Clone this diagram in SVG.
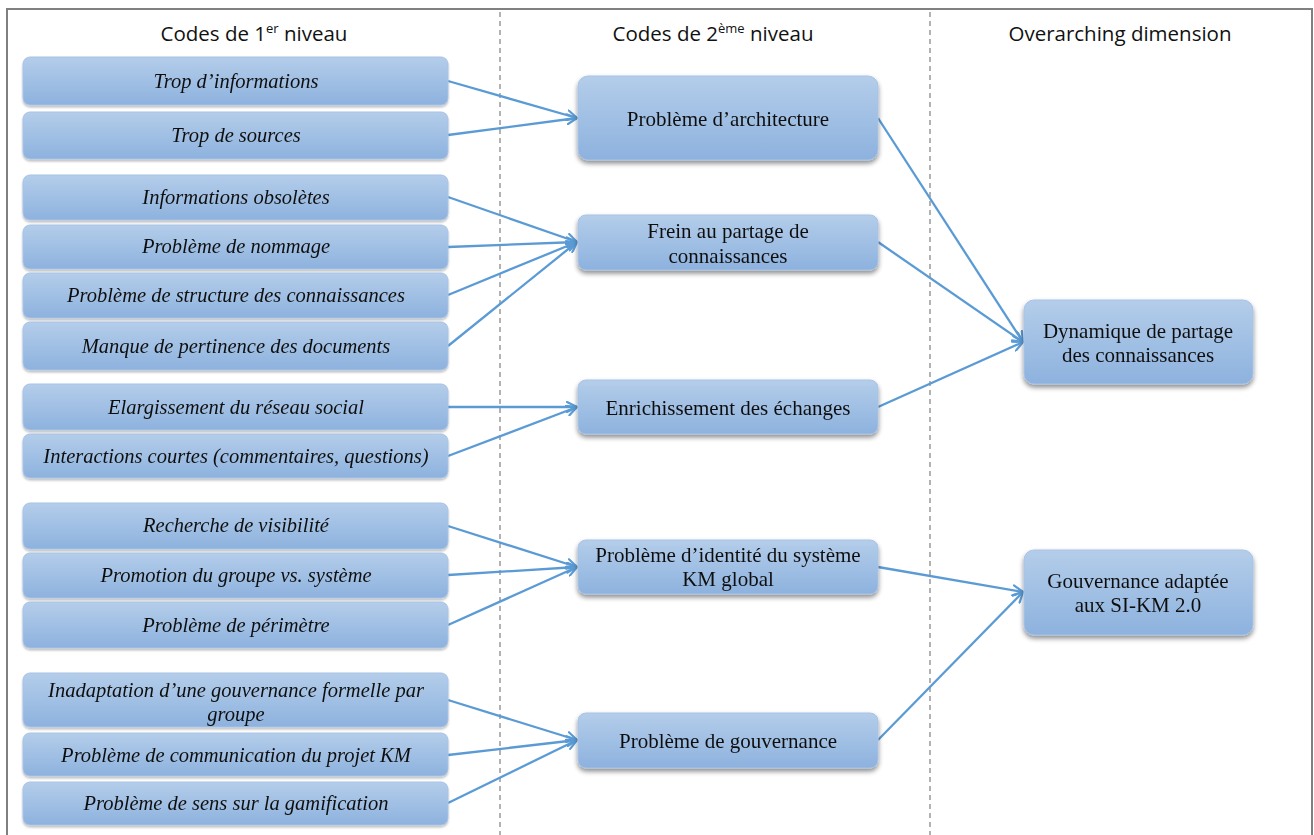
<svg xmlns="http://www.w3.org/2000/svg" width="1314" height="835" viewBox="0 0 1314 835">
<defs>
<linearGradient id="g" x1="0" y1="0" x2="0" y2="1">
<stop offset="0" stop-color="#b4cdea"/>
<stop offset="1" stop-color="#8db2de"/>
</linearGradient>
<filter id="sh" x="-10%" y="-20%" width="120%" height="150%">
<feGaussianBlur in="SourceAlpha" stdDeviation="2.5"/>
<feOffset dx="0" dy="3" result="b"/>
<feComponentTransfer><feFuncA type="linear" slope="0.45"/></feComponentTransfer>
<feMerge><feMergeNode/><feMergeNode in="SourceGraphic"/></feMerge>
</filter>
<filter id="sh2" x="-10%" y="-20%" width="120%" height="150%">
<feGaussianBlur in="SourceAlpha" stdDeviation="1.2"/>
<feOffset dx="0" dy="1.5" result="b"/>
<feComponentTransfer><feFuncA type="linear" slope="0.25"/></feComponentTransfer>
<feMerge><feMergeNode/><feMergeNode in="SourceGraphic"/></feMerge>
</filter>
<marker id="arr" viewBox="0 0 12 12" refX="11" refY="6" markerWidth="12" markerHeight="12" markerUnits="userSpaceOnUse" orient="auto">
<path d="M1,1 L11,6 L1,11" fill="none" stroke="#5b9bd5" stroke-width="2.2" stroke-linecap="round" stroke-linejoin="round"/>
</marker>
</defs>
<style>
.box{fill:url(#g);stroke:#a8c3e6;stroke-width:1}
.l{filter:url(#sh2)}
.m{filter:url(#sh)}
.t1{font-family:"Liberation Serif",serif;font-style:italic;font-size:20.5px;fill:#111;text-anchor:middle}
.t2{font-family:"Liberation Serif",serif;font-size:21px;fill:#111;text-anchor:middle}
.h{font-family:"Open Sans","Liberation Sans",sans-serif;font-size:20.5px;fill:#111;text-anchor:middle}
.c{stroke:#5b9bd5;stroke-width:2.3;fill:none;marker-end:url(#arr)}
.d{stroke:#999;stroke-width:1.5;stroke-dasharray:5,4;fill:none}
</style>
<rect x="0" y="0" width="1314" height="835" fill="#fff"/>
<path d="M7,840 V9 H1312 V840" fill="none" stroke="#808080" stroke-width="2"/>
<line class="d" x1="500" y1="12" x2="500" y2="835"/>
<line class="d" x1="930" y1="12" x2="930" y2="835"/>
<g id="headers">
<text class="h" x="254" y="41">Codes de 1<tspan font-size="13" dy="-8">er</tspan><tspan dy="8"> niveau</tspan></text>
<text class="h" x="713" y="41">Codes de 2<tspan font-size="13" dy="-8">ème</tspan><tspan dy="8"> niveau</tspan></text>
<text class="h" x="1120" y="41">Overarching dimension</text>
</g>
<g id="connectors">
<line class="c" x1="448" y1="81" x2="577" y2="118"/>
<line class="c" x1="448" y1="135" x2="577" y2="118"/>
<line class="c" x1="448" y1="197" x2="577" y2="242"/>
<line class="c" x1="448" y1="247" x2="577" y2="242"/>
<line class="c" x1="448" y1="295" x2="577" y2="242"/>
<line class="c" x1="448" y1="346" x2="577" y2="242"/>
<line class="c" x1="448" y1="407" x2="577" y2="407"/>
<line class="c" x1="448" y1="456" x2="577" y2="407"/>
<line class="c" x1="448" y1="526" x2="577" y2="567"/>
<line class="c" x1="448" y1="575" x2="577" y2="567"/>
<line class="c" x1="448" y1="625" x2="577" y2="567"/>
<line class="c" x1="448" y1="700" x2="577" y2="740"/>
<line class="c" x1="448" y1="755" x2="577" y2="740"/>
<line class="c" x1="448" y1="803" x2="577" y2="740"/>
<line class="c" x1="878" y1="118" x2="1023" y2="342"/>
<line class="c" x1="878" y1="242" x2="1023" y2="342"/>
<line class="c" x1="878" y1="407" x2="1023" y2="342"/>
<line class="c" x1="878" y1="567" x2="1023" y2="592"/>
<line class="c" x1="878" y1="740" x2="1023" y2="592"/>
</g>
<g id="n1" class="l"><rect class="box" x="23" y="57" width="425" height="48" rx="7"/><text class="t1" x="236" y="88">Trop d’informations</text></g>
<g id="n2" class="l"><rect class="box" x="23" y="112" width="425" height="47" rx="7"/><text class="t1" x="236" y="142">Trop de sources</text></g>
<g id="n3" class="l"><rect class="box" x="23" y="175" width="425" height="45" rx="7"/><text class="t1" x="236" y="204">Informations obsolètes</text></g>
<g id="n4" class="l"><rect class="box" x="23" y="225" width="425" height="44" rx="7"/><text class="t1" x="236" y="253">Problème de nommage</text></g>
<g id="n5" class="l"><rect class="box" x="23" y="273" width="425" height="45" rx="7"/><text class="t1" x="236" y="302">Problème de structure des connaissances</text></g>
<g id="n6" class="l"><rect class="box" x="23" y="322" width="425" height="48" rx="7"/><text class="t1" x="236" y="353">Manque de pertinence des documents</text></g>
<g id="n7" class="l"><rect class="box" x="23" y="384" width="425" height="46" rx="7"/><text class="t1" x="236" y="414">Elargissement du réseau social</text></g>
<g id="n8" class="l"><rect class="box" x="23" y="434" width="425" height="44" rx="7"/><text class="t1" x="236" y="463">Interactions courtes (commentaires, questions)</text></g>
<g id="n9" class="l"><rect class="box" x="23" y="503" width="425" height="46" rx="7"/><text class="t1" x="236" y="532">Recherche de visibilité</text></g>
<g id="n10" class="l"><rect class="box" x="23" y="553" width="425" height="45" rx="7"/><text class="t1" x="236" y="582">Promotion du groupe vs. système</text></g>
<g id="n11" class="l"><rect class="box" x="23" y="602" width="425" height="46" rx="7"/><text class="t1" x="236" y="632">Problème de périmètre</text></g>
<g id="n12" class="l"><rect class="box" x="23" y="673" width="425" height="54" rx="7"/><text class="t1" x="236" y="697">Inadaptation d’une gouvernance formelle par</text><text class="t1" x="236" y="721">groupe</text></g>
<g id="n13" class="l"><rect class="box" x="23" y="733" width="425" height="43" rx="7"/><text class="t1" x="236" y="762">Problème de communication du projet KM</text></g>
<g id="n14" class="l"><rect class="box" x="23" y="782" width="425" height="43" rx="7"/><text class="t1" x="236" y="810">Problème de sens sur la gamification</text></g>
<g id="m1" class="m"><rect class="box" x="578" y="76" width="300" height="84" rx="10"/><text class="t2" x="728" y="126">Problème d’architecture</text></g>
<g id="m2" class="m"><rect class="box" x="578" y="215" width="300" height="55" rx="8"/><text class="t2" x="728" y="238">Frein au partage de</text><text class="t2" x="728" y="263">connaissances</text></g>
<g id="m3" class="m"><rect class="box" x="578" y="380" width="300" height="54" rx="8"/><text class="t2" x="728" y="415">Enrichissement des échanges</text></g>
<g id="m4" class="m"><rect class="box" x="578" y="540" width="300" height="54" rx="8"/><text class="t2" x="728" y="562">Problème d’identité du système</text><text class="t2" x="728" y="586">KM global</text></g>
<g id="m5" class="m"><rect class="box" x="578" y="713" width="300" height="55" rx="8"/><text class="t2" x="728" y="748">Problème de gouvernance</text></g>
<g id="r1" class="m"><rect class="box" x="1024" y="300" width="229" height="84" rx="10"/><text class="t2" x="1138" y="338">Dynamique de partage</text><text class="t2" x="1138" y="362">des connaissances</text></g>
<g id="r2" class="m"><rect class="box" x="1024" y="550" width="229" height="85" rx="10"/><text class="t2" x="1138" y="588">Gouvernance adaptée</text><text class="t2" x="1138" y="612">aux SI-KM 2.0</text></g>
</svg>
